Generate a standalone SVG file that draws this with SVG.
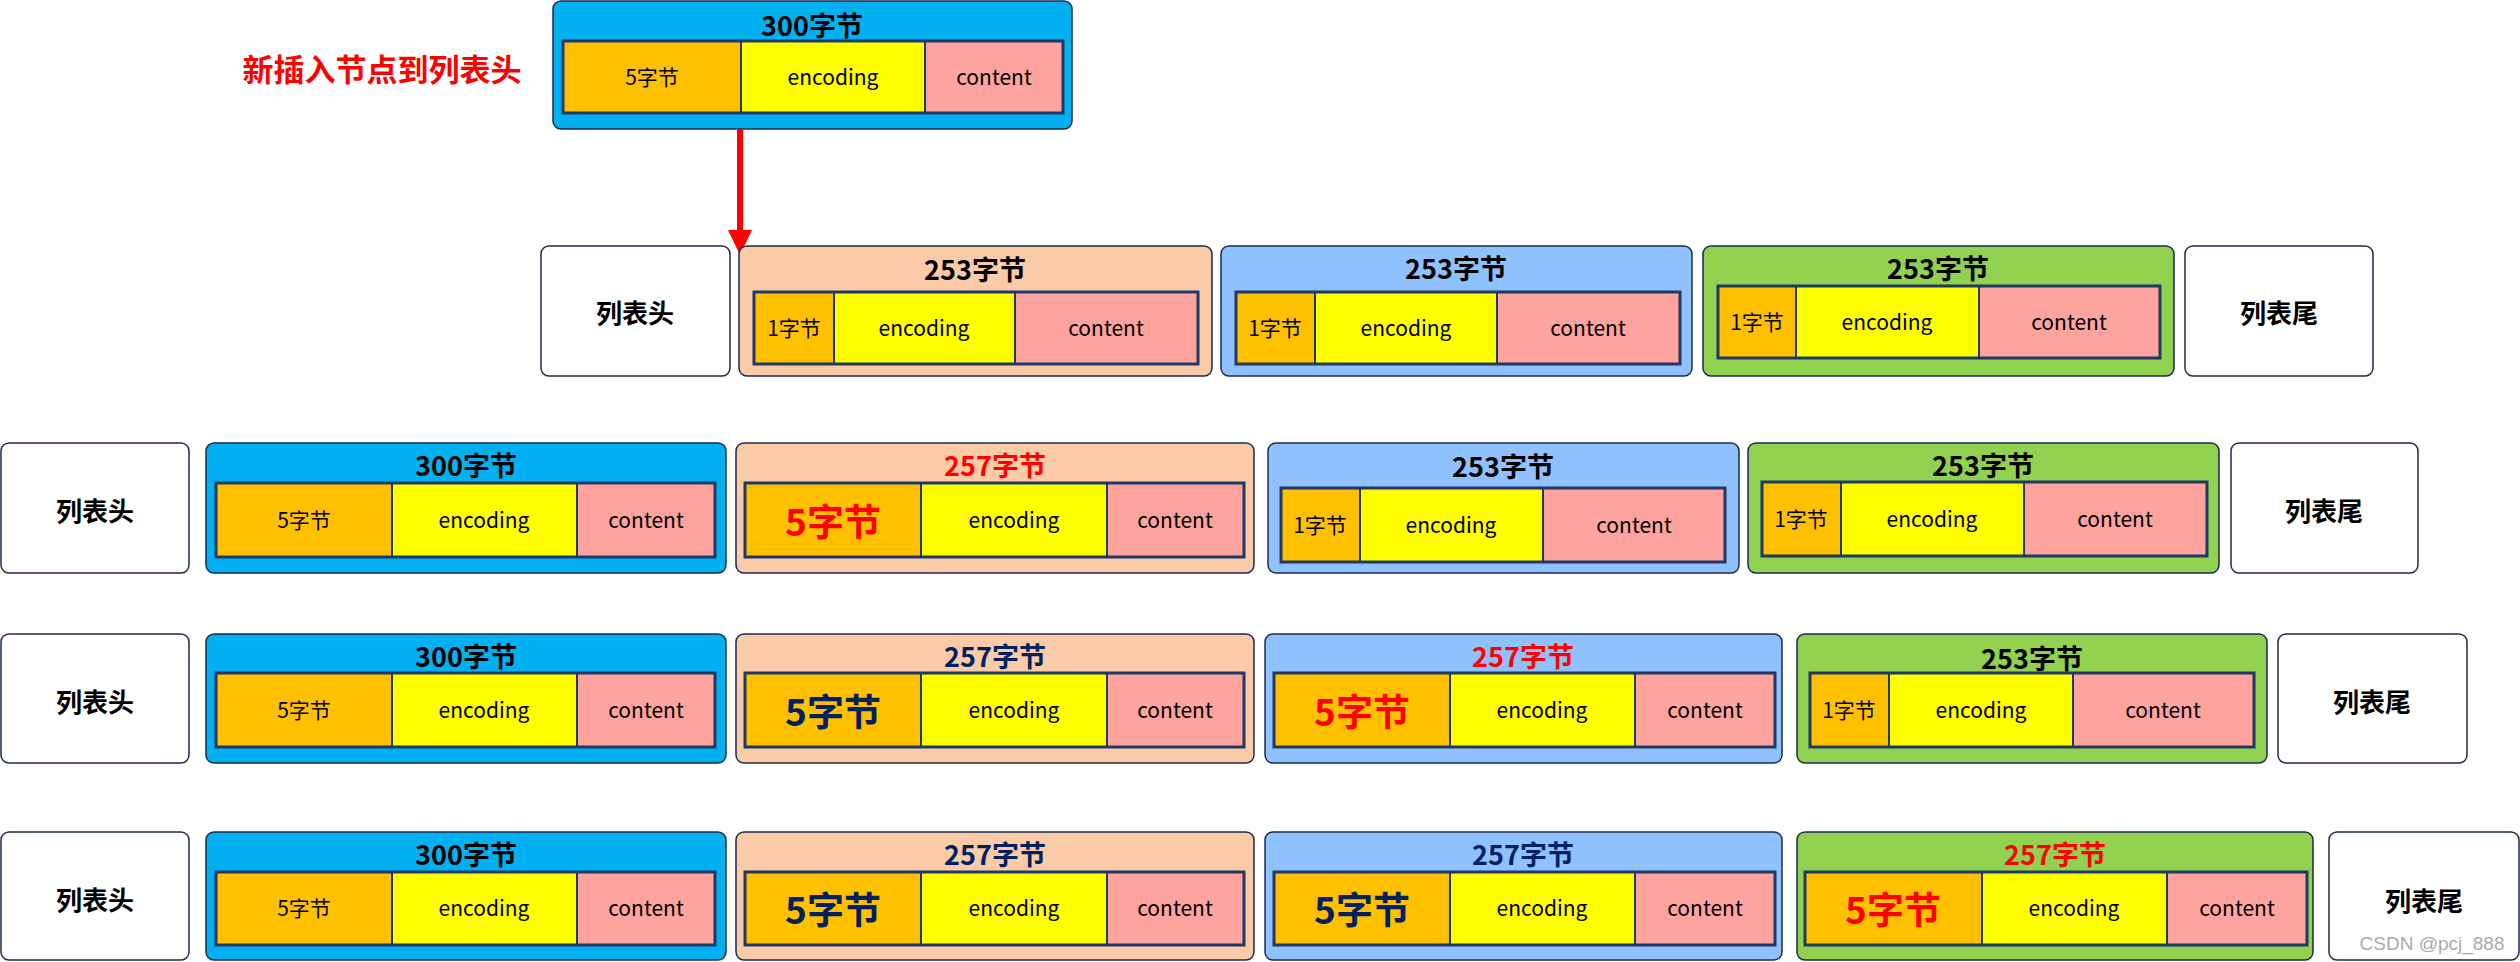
<svg xmlns="http://www.w3.org/2000/svg" width="2520" height="962" viewBox="0 0 2520 962">
<defs>
<style>
.box{stroke:#1B2A4E;stroke-width:1.5}
.end{fill:#FFFFFF}
.cyan{fill:#00B0F0}
.peach{fill:#FBCBA8}
.blue{fill:#8FC1FF}
.green{fill:#92D050}
.c1{fill:#FFC000;stroke:#1F3864;stroke-width:2}
.c2{fill:#FFFF00;stroke:#1F3864;stroke-width:2}
.c3{fill:#FFA39F;stroke:#1F3864;stroke-width:2}
.frame{fill:none;stroke:#1F3864;stroke-width:3}
text{font-family:"Noto Sans CJK SC","Microsoft YaHei",sans-serif;text-anchor:middle;dominant-baseline:central}
.t{font-size:27px;font-weight:bold;fill:#000}
.lbl{font-size:21px;fill:#000}
.big{font-size:37px;font-weight:bold}
.red{fill:#FF0000}
.navy{fill:#002060}
.end-t{font-size:26px;font-weight:bold;fill:#000}
</style>
</defs>
<rect width="2520" height="962" fill="#FFFFFF"/>

<text x="382" y="67" style="font-size:31px;font-weight:bold;fill:#FF0000">新插入节点到列表头</text>

<g id="new-node">
<rect class="box cyan" x="553" y="1" width="519" height="128" rx="8"/>
<text class="t" x="812" y="24">300字节</text>
<rect class="c1" x="563" y="41" width="178" height="72"/>
<rect class="c2" x="741" y="41" width="184" height="72"/>
<rect class="c3" x="925" y="41" width="138" height="72"/>
<rect class="frame" x="563" y="41" width="500" height="72"/>
<text class="lbl" x="652" y="76">5字节</text>
<text class="lbl" x="833" y="76">encoding</text>
<text class="lbl" x="994" y="76">content</text>
</g>

<g id="connectors">
<line x1="740" y1="129" x2="740" y2="234" stroke="#FF0000" stroke-width="6"/>
<polygon points="728,230 752,230 740,255" fill="#FF0000"/>
</g>

<!-- Row 1 -->
<g id="r1-head">
<rect class="box end" x="541" y="246" width="189" height="130" rx="8"/>
<text class="end-t" x="635" y="311">列表头</text>
</g>
<g id="r1-n1">
<rect class="box peach" x="739" y="246" width="473" height="130" rx="8"/>
<text class="t" x="975" y="268">253字节</text>
<rect class="c1" x="754" y="292" width="80" height="72"/>
<rect class="c2" x="834" y="292" width="181" height="72"/>
<rect class="c3" x="1015" y="292" width="183" height="72"/>
<rect class="frame" x="754" y="292" width="444" height="72"/>
<text class="lbl" x="794" y="327">1字节</text>
<text class="lbl" x="924" y="327">encoding</text>
<text class="lbl" x="1106" y="327">content</text>
</g>
<g id="r1-n2">
<rect class="box blue" x="1221" y="246" width="471" height="130" rx="8"/>
<text class="t" x="1456" y="267">253字节</text>
<rect class="c1" x="1236" y="292" width="79" height="72"/>
<rect class="c2" x="1315" y="292" width="182" height="72"/>
<rect class="c3" x="1497" y="292" width="183" height="72"/>
<rect class="frame" x="1236" y="292" width="444" height="72"/>
<text class="lbl" x="1275" y="327">1字节</text>
<text class="lbl" x="1406" y="327">encoding</text>
<text class="lbl" x="1588" y="327">content</text>
</g>
<g id="r1-n3">
<rect class="box green" x="1703" y="246" width="471" height="130" rx="8"/>
<text class="t" x="1938" y="267">253字节</text>
<rect class="c1" x="1718" y="286" width="78" height="72"/>
<rect class="c2" x="1796" y="286" width="183" height="72"/>
<rect class="c3" x="1979" y="286" width="181" height="72"/>
<rect class="frame" x="1718" y="286" width="442" height="72"/>
<text class="lbl" x="1757" y="321">1字节</text>
<text class="lbl" x="1887" y="321">encoding</text>
<text class="lbl" x="2069" y="321">content</text>
</g>
<g id="r1-tail">
<rect class="box end" x="2185" y="246" width="188" height="130" rx="8"/>
<text class="end-t" x="2279" y="311">列表尾</text>
</g>

<!-- Row 2 -->
<g id="r2-head">
<rect class="box end" x="1" y="443" width="188" height="130" rx="8"/>
<text class="end-t" x="95" y="509">列表头</text>
</g>
<g id="r2-n0">
<rect class="box cyan" x="206" y="443" width="520" height="130" rx="8"/>
<text class="t" x="466" y="464">300字节</text>
<rect class="c1" x="216" y="483" width="176" height="74"/>
<rect class="c2" x="392" y="483" width="185" height="74"/>
<rect class="c3" x="577" y="483" width="138" height="74"/>
<rect class="frame" x="216" y="483" width="499" height="74"/>
<text class="lbl" x="304" y="519">5字节</text>
<text class="lbl" x="484" y="519">encoding</text>
<text class="lbl" x="646" y="519">content</text>
</g>
<g id="r2-n1">
<rect class="box peach" x="736" y="443" width="518" height="130" rx="8"/>
<text class="t red" x="995" y="464">257字节</text>
<rect class="c1" x="745" y="483" width="176" height="74"/>
<rect class="c2" x="921" y="483" width="186" height="74"/>
<rect class="c3" x="1107" y="483" width="137" height="74"/>
<rect class="frame" x="745" y="483" width="499" height="74"/>
<text class="big red" x="833" y="520">5字节</text>
<text class="lbl" x="1014" y="519">encoding</text>
<text class="lbl" x="1175" y="519">content</text>
</g>
<g id="r2-n2">
<rect class="box blue" x="1268" y="443" width="471" height="130" rx="8"/>
<text class="t" x="1503" y="465">253字节</text>
<rect class="c1" x="1281" y="488" width="79" height="74"/>
<rect class="c2" x="1360" y="488" width="183" height="74"/>
<rect class="c3" x="1543" y="488" width="182" height="74"/>
<rect class="frame" x="1281" y="488" width="444" height="74"/>
<text class="lbl" x="1320" y="524">1字节</text>
<text class="lbl" x="1451" y="524">encoding</text>
<text class="lbl" x="1634" y="524">content</text>
</g>
<g id="r2-n3">
<rect class="box green" x="1748" y="443" width="471" height="130" rx="8"/>
<text class="t" x="1983" y="464">253字节</text>
<rect class="c1" x="1762" y="482" width="79" height="74"/>
<rect class="c2" x="1841" y="482" width="183" height="74"/>
<rect class="c3" x="2024" y="482" width="183" height="74"/>
<rect class="frame" x="1762" y="482" width="445" height="74"/>
<text class="lbl" x="1801" y="518">1字节</text>
<text class="lbl" x="1932" y="518">encoding</text>
<text class="lbl" x="2115" y="518">content</text>
</g>
<g id="r2-tail">
<rect class="box end" x="2231" y="443" width="187" height="130" rx="8"/>
<text class="end-t" x="2324" y="509">列表尾</text>
</g>

<!-- Row 3 -->
<g id="r3-head">
<rect class="box end" x="1" y="634" width="188" height="129" rx="8"/>
<text class="end-t" x="95" y="700">列表头</text>
</g>
<g id="r3-n0">
<rect class="box cyan" x="206" y="634" width="520" height="129" rx="8"/>
<text class="t" x="466" y="655">300字节</text>
<rect class="c1" x="216" y="673" width="176" height="74"/>
<rect class="c2" x="392" y="673" width="185" height="74"/>
<rect class="c3" x="577" y="673" width="138" height="74"/>
<rect class="frame" x="216" y="673" width="499" height="74"/>
<text class="lbl" x="304" y="709">5字节</text>
<text class="lbl" x="484" y="709">encoding</text>
<text class="lbl" x="646" y="709">content</text>
</g>
<g id="r3-n1">
<rect class="box peach" x="736" y="634" width="518" height="129" rx="8"/>
<text class="t navy" x="995" y="655">257字节</text>
<rect class="c1" x="745" y="673" width="176" height="74"/>
<rect class="c2" x="921" y="673" width="186" height="74"/>
<rect class="c3" x="1107" y="673" width="137" height="74"/>
<rect class="frame" x="745" y="673" width="499" height="74"/>
<text class="big navy" x="833" y="710">5字节</text>
<text class="lbl" x="1014" y="709">encoding</text>
<text class="lbl" x="1175" y="709">content</text>
</g>
<g id="r3-n2">
<rect class="box blue" x="1265" y="634" width="517" height="129" rx="8"/>
<text class="t red" x="1523" y="655">257字节</text>
<rect class="c1" x="1274" y="673" width="176" height="74"/>
<rect class="c2" x="1450" y="673" width="185" height="74"/>
<rect class="c3" x="1635" y="673" width="140" height="74"/>
<rect class="frame" x="1274" y="673" width="501" height="74"/>
<text class="big red" x="1362" y="710">5字节</text>
<text class="lbl" x="1542" y="709">encoding</text>
<text class="lbl" x="1705" y="709">content</text>
</g>
<g id="r3-n3">
<rect class="box green" x="1797" y="634" width="470" height="129" rx="8"/>
<text class="t" x="2032" y="657">253字节</text>
<rect class="c1" x="1810" y="673" width="79" height="74"/>
<rect class="c2" x="1889" y="673" width="184" height="74"/>
<rect class="c3" x="2073" y="673" width="181" height="74"/>
<rect class="frame" x="1810" y="673" width="444" height="74"/>
<text class="lbl" x="1849" y="709">1字节</text>
<text class="lbl" x="1981" y="709">encoding</text>
<text class="lbl" x="2163" y="709">content</text>
</g>
<g id="r3-tail">
<rect class="box end" x="2278" y="634" width="189" height="129" rx="8"/>
<text class="end-t" x="2372" y="700">列表尾</text>
</g>

<!-- Row 4 -->
<g id="r4-head">
<rect class="box end" x="1" y="832" width="188" height="128" rx="8"/>
<text class="end-t" x="95" y="898">列表头</text>
</g>
<g id="r4-n0">
<rect class="box cyan" x="206" y="832" width="520" height="128" rx="8"/>
<text class="t" x="466" y="853">300字节</text>
<rect class="c1" x="216" y="872" width="176" height="73"/>
<rect class="c2" x="392" y="872" width="185" height="73"/>
<rect class="c3" x="577" y="872" width="138" height="73"/>
<rect class="frame" x="216" y="872" width="499" height="73"/>
<text class="lbl" x="304" y="907">5字节</text>
<text class="lbl" x="484" y="907">encoding</text>
<text class="lbl" x="646" y="907">content</text>
</g>
<g id="r4-n1">
<rect class="box peach" x="736" y="832" width="518" height="128" rx="8"/>
<text class="t navy" x="995" y="853">257字节</text>
<rect class="c1" x="745" y="872" width="176" height="73"/>
<rect class="c2" x="921" y="872" width="186" height="73"/>
<rect class="c3" x="1107" y="872" width="137" height="73"/>
<rect class="frame" x="745" y="872" width="499" height="73"/>
<text class="big navy" x="833" y="908">5字节</text>
<text class="lbl" x="1014" y="907">encoding</text>
<text class="lbl" x="1175" y="907">content</text>
</g>
<g id="r4-n2">
<rect class="box blue" x="1265" y="832" width="517" height="128" rx="8"/>
<text class="t navy" x="1523" y="853">257字节</text>
<rect class="c1" x="1274" y="872" width="176" height="73"/>
<rect class="c2" x="1450" y="872" width="185" height="73"/>
<rect class="c3" x="1635" y="872" width="140" height="73"/>
<rect class="frame" x="1274" y="872" width="501" height="73"/>
<text class="big navy" x="1362" y="908">5字节</text>
<text class="lbl" x="1542" y="907">encoding</text>
<text class="lbl" x="1705" y="907">content</text>
</g>
<g id="r4-n3">
<rect class="box green" x="1797" y="832" width="516" height="128" rx="8"/>
<text class="t red" x="2055" y="853">257字节</text>
<rect class="c1" x="1805" y="872" width="177" height="73"/>
<rect class="c2" x="1982" y="872" width="185" height="73"/>
<rect class="c3" x="2167" y="872" width="140" height="73"/>
<rect class="frame" x="1805" y="872" width="502" height="73"/>
<text class="big red" x="1893" y="908">5字节</text>
<text class="lbl" x="2074" y="907">encoding</text>
<text class="lbl" x="2237" y="907">content</text>
</g>
<g id="r4-tail">
<rect class="box end" x="2329" y="832" width="190" height="128" rx="8"/>
<text class="end-t" x="2424" y="899">列表尾</text>
</g>

<text x="2432" y="943" style="font-family:'Liberation Sans',Arial,sans-serif;font-size:19px;fill:#AAAAAA">CSDN @pcj_888</text>
</svg>
